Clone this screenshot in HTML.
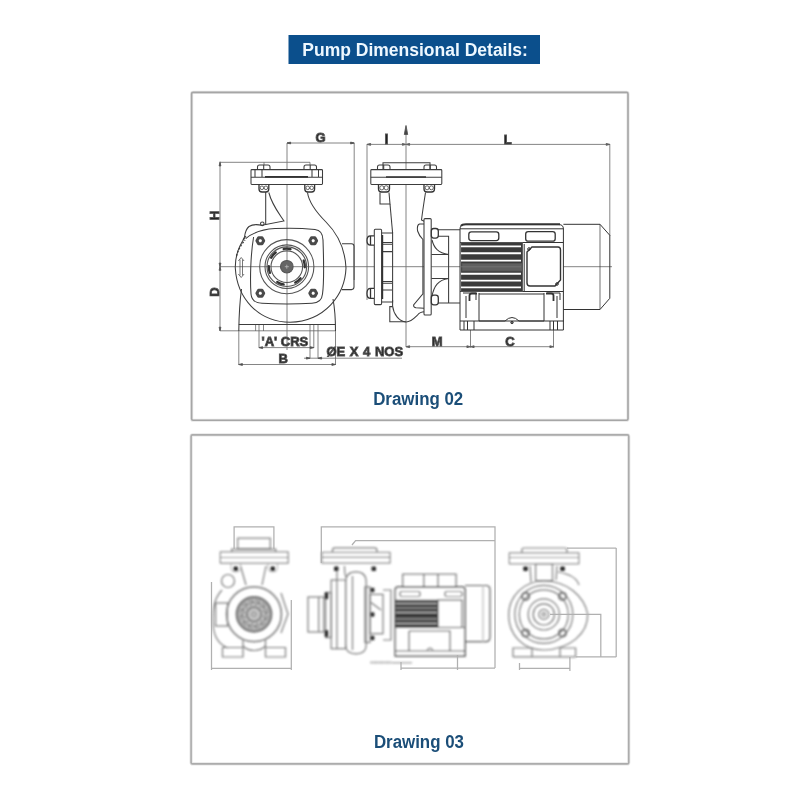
<!DOCTYPE html>
<html><head><meta charset="utf-8">
<style>
html,body{margin:0;padding:0;background:#fff;width:800px;height:800px;overflow:hidden}
svg{display:block;will-change:transform}
text{font-family:"Liberation Sans",sans-serif;font-weight:bold}
</style></head><body>
<svg width="800" height="800" viewBox="0 0 800 800">
<defs><filter id="bl3" filterUnits="userSpaceOnUse" x="0" y="0" width="800" height="800"><feGaussianBlur stdDeviation="0.8"/></filter></defs>
<rect x="0" y="0" width="800" height="800" fill="#fff"/>
<!-- title -->
<rect x="288.5" y="35" width="251.5" height="29" fill="#0b4f8c"/>
<text x="302.3" y="56" font-size="17.5" fill="#eef8ff">Pump Dimensional Details:</text>

<!-- frames -->
<g fill="none">
<rect x="191.6" y="92.4" width="436.4" height="327.85" rx="1.5" stroke="#e6e6e6" stroke-width="3.2"/>
<rect x="191.6" y="92.4" width="436.4" height="327.85" rx="1.5" stroke="#a6a6a6" stroke-width="1.6"/>
<rect x="191.1" y="434.9" width="437.65" height="329" rx="1.5" stroke="#e6e6e6" stroke-width="3.2"/>
<rect x="191.1" y="434.9" width="437.65" height="329" rx="1.5" stroke="#acacac" stroke-width="1.6"/>
</g>

<text x="373.2" y="404.5" font-size="18" textLength="90" lengthAdjust="spacingAndGlyphs" fill="#1b4e78">Drawing 02</text>
<text x="373.9" y="748.3" font-size="18" textLength="90" lengthAdjust="spacingAndGlyphs" fill="#1b4e78">Drawing 03</text>

<!-- DRAWING 02 -->
<g id="d2" fill="none" stroke="#555" stroke-width="0.9">
<!-- D2 left view: dimension lines -->
<g stroke="#666" stroke-width="0.8">
<line x1="220" y1="161.5" x2="220" y2="331"/>
<line x1="220" y1="162.3" x2="264" y2="162.3"/>
<path d="M264 165 V162.3 H310 V165"/>
<line x1="220" y1="330.8" x2="335.5" y2="330.8"/>
<line x1="287" y1="143" x2="354.2" y2="143"/>
<line x1="354.2" y1="143" x2="354.2" y2="280"/>
<line x1="238.8" y1="331" x2="238.8" y2="365"/>
<line x1="238.8" y1="364.5" x2="335.5" y2="364.5"/>
<path d="M333 299 C334.5 307 335.5 318 335.5 331" fill="none" stroke="#3c3c3c" stroke-width="1.05"/>
<line x1="335.5" y1="331" x2="335.5" y2="365"/>
<line x1="259" y1="324.5" x2="259" y2="348"/>
<line x1="259" y1="347.6" x2="314" y2="347.6"/>
<line x1="313.8" y1="324.5" x2="313.8" y2="348"/>
<line x1="310" y1="324.5" x2="310" y2="358.5"/>
<line x1="318" y1="324.5" x2="318" y2="358.5"/>
<line x1="304" y1="358.2" x2="402" y2="358.2"/>
<line x1="255.6" y1="324.5" x2="255.6" y2="331"/>
<line x1="263.5" y1="324.5" x2="263.5" y2="331"/>
</g>
<g stroke="#777" stroke-width="0.9">
<line x1="220" y1="266.7" x2="612" y2="266.7"/>
<line x1="287" y1="143" x2="287" y2="350"/>
</g>
<g fill="#222" font-size="13">
<text x="320.6" y="141.8" text-anchor="middle">G</text>
<text transform="translate(219.2,215.6) rotate(-90)" text-anchor="middle">H</text>
<text transform="translate(219.2,292) rotate(-90)" text-anchor="middle">D</text>
<text x="261.6" y="346">'A' CRS</text>
<text x="283.1" y="363.1" text-anchor="middle">B</text>
<text x="326.4" y="356.3" word-spacing="1">ØE X 4 NOS</text>
</g>
<!-- pump body -->
<g fill="none" stroke="#3c3c3c" stroke-width="1.05">
<!-- top flange -->
<rect x="251" y="169.6" width="71.5" height="14.8" rx="0.8" fill="#fff"/>
<line x1="251" y1="177.2" x2="322.5" y2="177.2"/>
<line x1="265" y1="176.9" x2="308" y2="176.9" stroke-width="1.6" stroke="#333"/>
<line x1="255" y1="169.6" x2="255" y2="177"/>
<line x1="262" y1="169.6" x2="262" y2="177"/>
<line x1="312" y1="169.6" x2="312" y2="177"/>
<line x1="318.5" y1="169.6" x2="318.5" y2="177"/>
<path d="M257.5 169.5 v-2.5 q0-2 2-2 h8.5 q2 0 2 2 v2.5 M263.7 165 v4.5"/>
<path d="M304 169.5 v-2.5 q0-2 2-2 h8.5 q2 0 2 2 v2.5 M310.2 165 v4.5"/>
<path d="M259 184.5 v4.5 q0 3 3 3 h3.8 q3 0 3 -3 v-4.5" stroke="#333" stroke-width="1.3"/><circle cx="261.9" cy="187.8" r="1.8" stroke-width="0.8"/><circle cx="265.9" cy="187.8" r="1.8" stroke-width="0.8"/>
<path d="M304.8 184.5 v4.5 q0 3 3 3 h3.8 q3 0 3 -3 v-4.5" stroke="#333" stroke-width="1.3"/><circle cx="307.7" cy="187.8" r="1.8" stroke-width="0.8"/><circle cx="311.7" cy="187.8" r="1.8" stroke-width="0.8"/>
<!-- neck -->
<line x1="265.7" y1="192" x2="265.7" y2="225"/>
<path d="M268.8 192.5 C272 205 278 212 284 221 L262 225.3 C257 224.2 253 224 249 226.5 C246 229 245 233 244.5 237 L243 240"/>
<path d="M307.5 192.5 C309 203 316 212 326 222 C338 234 345 248 346 268 C345 295 325 321 290 322.3 C258 322 237 298 235.3 268 C235 255 240 244 246 236"/>
<circle cx="262.3" cy="223.8" r="1.8"/>
<!-- rounded square flange -->
<path d="M245.7 238.6 C252 233 262 229.5 275 228.6 C290 227.8 305 228.5 315 229.6 C320.5 230.2 322.8 234 323 240 C323.5 255 324.5 280 322.5 294 C322 300 318 303 312 303.3 C298 304 276 304 262 303.3 C255 303 251.5 300 251 294 C250 280 250.5 255 253.6 237"/>
<g stroke="#555" stroke-width="1.1">
<circle cx="286.8" cy="266.7" r="27.1"/>
<circle cx="286.8" cy="266.7" r="21.8"/>
<circle cx="286.8" cy="266.7" r="19.8"/>
<circle cx="286.8" cy="266.7" r="15.8"/>
</g>
<g stroke="#333" stroke-width="2.3" stroke-linecap="round">
<path d="M283.67 248.97 A18 18 0 0 1 290.54 249.09"/>
<path d="M271.21 257.70 A18 18 0 0 1 275.72 252.52"/>
<path d="M269.89 272.86 A18 18 0 0 1 268.81 266.07"/>
<path d="M283.67 284.43 A18 18 0 0 1 277.26 281.96"/>
<path d="M300.59 278.27 A18 18 0 0 1 295.25 282.59"/>
<path d="M303.71 260.54 A18 18 0 0 1 304.79 267.33"/>
</g>
<circle cx="286.8" cy="266.7" r="6.3" fill="#666" stroke="#555"/>
<path d="M284.8 266.7 h4 M286.8 264.7 v4" stroke="#bbb" stroke-width="0.8"/>
<!-- discharge box -->
<path d="M342 243.8 h9.5 q2.5 0 2.5 2.5 v40.8 q0 2.5 -2.5 2.5 h-9.8"/>
<!-- feet -->
<path d="M241.5 289 C240 300 239 315 238.8 331"/>
<line x1="238.8" y1="324.4" x2="335.5" y2="324.4"/>
<!-- rotation arrow -->
<path d="M240 259.5 v16 M242.5 259.5 v16 M238.3 261 l2.9 -3.5 l2.9 3.5 M238.3 274 l2.9 3.5 l2.9 -3.5" stroke-width="0.7"/>
<path d="M236.5 256 C238 250 241 245 245 240" stroke-width="1.3" stroke-dasharray="2 1.5"/>
</g>
<!-- bolts -->
<g fill="none" stroke="#4a4a4a" stroke-width="3" stroke-linejoin="round">
<polygon points="263.70,240.80 262.00,243.74 258.60,243.74 256.90,240.80 258.60,237.86 262.00,237.86"/>
<polygon points="316.60,240.80 314.90,243.74 311.50,243.74 309.80,240.80 311.50,237.86 314.90,237.86"/>
<polygon points="263.70,293.20 262.00,296.14 258.60,296.14 256.90,293.20 258.60,290.26 262.00,290.26"/>
<polygon points="316.60,293.20 314.90,296.14 311.50,296.14 309.80,293.20 311.50,290.26 314.90,290.26"/>
</g>
<!-- arrows -->
<g fill="#4a4a4a">
<polygon points="220.0,162.3 219.1,165.9 220.9,165.9"/>
<polygon points="220.0,266.7 219.1,263.1 220.9,263.1"/>
<polygon points="220.0,266.7 219.1,270.3 220.9,270.3"/>
<polygon points="220.0,330.8 219.1,327.2 220.9,327.2"/>
<polygon points="287.0,143.0 290.6,142.1 290.6,143.9"/>
<polygon points="354.2,143.0 350.6,142.1 350.6,143.9"/>
<polygon points="367.0,144.4 370.6,143.5 370.6,145.3"/>
<polygon points="406.0,144.4 402.4,143.5 402.4,145.3"/>
<polygon points="406.0,144.4 409.6,143.5 409.6,145.3"/>
<polygon points="609.8,144.4 606.2,143.5 606.2,145.3"/>
<polygon points="238.8,364.5 242.4,363.6 242.4,365.4"/>
<polygon points="335.5,364.5 331.9,363.6 331.9,365.4"/>
<polygon points="259.0,347.6 262.6,346.7 262.6,348.6"/>
<polygon points="313.8,347.6 310.2,346.7 310.2,348.6"/>
<polygon points="310.0,358.2 306.4,357.2 306.4,359.1"/>
<polygon points="318.0,358.2 321.6,357.2 321.6,359.1"/>
<polygon points="406.0,346.7 409.6,345.8 409.6,347.6"/>
<polygon points="470.5,346.7 466.9,345.8 466.9,347.6"/>
<polygon points="470.5,346.7 474.1,345.8 474.1,347.6"/>
<polygon points="553.5,346.7 549.9,345.8 549.9,347.6"/>
</g>
<!-- D2 right view -->
<g stroke="#666" stroke-width="0.8">
<line x1="367" y1="144.4" x2="610" y2="144.4"/>
<line x1="367" y1="144" x2="367" y2="300"/>
<line x1="609.8" y1="144" x2="609.8" y2="236"/>
<line x1="406" y1="346.7" x2="554" y2="346.7"/>
<line x1="470.5" y1="321" x2="470.5" y2="347.5"/>
<line x1="553.5" y1="321" x2="553.5" y2="347.5"/>
</g>
<g stroke="#777" stroke-width="0.9">
<line x1="406" y1="134" x2="406" y2="347"/>
</g>
<path d="M406 125.5 L404.3 134.5 L407.7 134.5 Z" fill="#444"/>
<g fill="#222" font-size="13">
<text x="384.6" y="144" font-size="14">I</text>
<text x="503.8" y="143.7">L</text>
<text x="431.8" y="346.2">M</text>
<text x="505.2" y="346.2">C</text>
</g>
<g fill="none" stroke="#3c3c3c" stroke-width="1.05">
<!-- top flange -->
<path d="M383 169.5 v-6.8 h47 v6.8"/>
<rect x="370.8" y="169.6" width="71" height="14.8" rx="0.8" fill="#fff"/>
<line x1="370.8" y1="177.2" x2="441.8" y2="177.2"/>
<line x1="386" y1="177" x2="426" y2="177" stroke-width="1.6" stroke="#333"/>
<path d="M377.5 169.5 v-2.5 q0-2 2-2 h8.5 q2 0 2 2 v2.5 M383.7 165 v4.5"/>
<path d="M424 169.5 v-2.5 q0-2 2-2 h8.5 q2 0 2 2 v2.5 M430.2 165 v4.5"/>
<path d="M378.5 184.5 v4.5 q0 3 3 3 h5.0 q3 0 3 -3 v-4.5" stroke="#333" stroke-width="1.3"/><circle cx="381.8" cy="187.8" r="2.1" stroke-width="0.8"/><circle cx="386.2" cy="187.8" r="2.1" stroke-width="0.8"/>
<path d="M424 184.5 v4.5 q0 3 3 3 h4.5 q3 0 3 -3 v-4.5" stroke="#333" stroke-width="1.3"/><circle cx="427.1" cy="187.8" r="2.0" stroke-width="0.8"/><circle cx="431.4" cy="187.8" r="2.0" stroke-width="0.8"/>
<path d="M380 192.5 v11.5 h10 l-1 -11.5"/>
<path d="M390 204 L392.6 233"/>
<path d="M425.5 192.5 C424 202 422.5 212 421.5 220 L424.2 221.3"/>
<!-- suction flange & nuts -->
<rect x="374.3" y="229.3" width="7.3" height="75.3" rx="1" fill="#fff"/>
<path d="M381.6 233 H392.6 V302 H381.6"/>
<path d="M382 242.5 h10 M382 244.3 h10 M382 251.6 h10 M382 281.4 h10 M382 283.2 h10 M382 290 h10"/>
<line x1="382.4" y1="235" x2="382.4" y2="299" stroke-width="1.6" stroke="#333"/>
<path d="M392.6 300 V306 C393.5 314 399 321.7 406 321.9 C411 322 414 318.5 417.4 315.2 C419 313 421 311.7 424.5 311.7"/>
<path d="M392.6 306.6 h-2.8 v15.1 h16"/>
<!-- motor side flange -->
<path d="M424 224 H419.5 C417.5 224.5 417 227 417.6 231 C418.5 234 420.5 237 422.9 239.5 V293.8 L413.6 305 C413.5 306.5 414.5 307.6 416 307.8 L424 308.3"/>
<rect x="424" y="218.6" width="7.2" height="96.4" rx="1" fill="#fff"/>
<path d="M436 229.7 H460 M436 303 H460"/>
<path d="M437 236.3 H448.6 V303"/>
<path d="M432 240 C434 248 438 253 448.6 254.5 M431.5 254.5 H448.6 M431.5 278.5 H448.6 M432 296 C434 286 438 280 448.6 278.5"/>
</g>
<g fill="#fff" stroke="#333" stroke-width="1.3">
<path d="M374 235.8 H370.5 Q367 235.8 367 240.5 Q367 245.2 370.5 245.2 H374 M370.5 235.8 V245.2"/>
<path d="M374 288.4 H370.5 Q367 288.4 367 293.4 Q367 298.4 370.5 298.4 H374 M370.5 288.4 V298.4"/>
<rect x="431.3" y="228.5" width="7" height="9.6" rx="2.5"/>
<rect x="431.3" y="295.2" width="7" height="9.6" rx="2.5"/>
</g>
<!-- motor -->
<g fill="none" stroke="#333" stroke-width="1">
<path d="M460 229 Q460 224.6 465 224.6 H559 Q563.4 224.6 563.4 229 V330 H460 Z" fill="#fff"/>
<path d="M461 226 Q462 224.3 466 224.3 H560" stroke-width="2"/>
<line x1="460" y1="228.8" x2="563.4" y2="228.8"/>
<rect x="468.8" y="231.9" width="30" height="8.7" rx="2.5" stroke-width="1.3"/>
<rect x="525.7" y="231.6" width="29.5" height="9.6" rx="2.5" stroke-width="1.3"/>
<line x1="460" y1="242.5" x2="563.4" y2="242.5"/>
<line x1="460" y1="291.5" x2="563.4" y2="291.5"/>
<!-- terminal box -->
<path d="M524.2 244 V291"/>
<path d="M527 252 L532 247 H558 Q560.5 247 560.5 250 V280 L555 286 H530 Q527 286 527 283 Z" stroke-width="1.4"/>
<circle cx="529" cy="249" r="1.3"/><circle cx="557" cy="284" r="1.3"/>
<!-- feet -->
<path d="M460 321 H564 M479 293 V321 M544 293 V321 M479 294 H544"/>
<path d="M479 321 H505 Q512 314 519 321 H544"/>
<circle cx="512" cy="322.5" r="1.2" fill="#777"/>
<path d="M464 321 V330 M467.5 321 V330 M474 321 V330 M550 321 V330 M553.5 321 V330 M557.5 321 V330"/>
<path d="M463 293 H476 V300 M547 293 H560 V300 M466 296 V318 M557 296 V318"/>
<path d="M469.5 301 V295.5 Q469.5 293.5 472 293.5 H477 M553.5 301 V295.5 Q553.5 293.5 551 293.5 H546" stroke-width="1.8" stroke="#333"/>
<!-- fan cover -->
<path d="M563.4 224.3 H600 L609.8 235.3 V298.3 L600 309.5 H563.4"/>
<line x1="600" y1="224.3" x2="600" y2="309.5" stroke-width="0.7"/>
</g>
<!-- fins -->
<g fill="#3a3a3a">
<rect x="461" y="242.5" width="61.5" height="49"/>
</g>
<rect x="462" y="263.5" width="60" height="7.5" fill="#606060"/>
<g stroke="#fff" stroke-width="1.9">
<line x1="461" y1="246.4" x2="521" y2="246.4"/>
<line x1="461" y1="253.2" x2="521" y2="253.2"/>
<line x1="461" y1="260.6" x2="521" y2="260.6"/>
<line x1="461" y1="273.8" x2="521" y2="273.8"/>
<line x1="461" y1="280.6" x2="521" y2="280.6"/>
<line x1="461" y1="287.4" x2="521" y2="287.4"/>
</g>
<g stroke="#777" stroke-width="0.8">
<line x1="461" y1="266.8" x2="521" y2="266.8"/>
</g>
</g>

<!-- DRAWING 03 -->
<g id="d3" filter="url(#bl3)">
<!-- D3 left view -->
<g fill="none" stroke="#7a7a7a" stroke-width="1.2">
<rect x="237.7" y="538.2" width="32.6" height="10.6"/>
<path d="M231.7 552 V549.2 H275.7 V552"/>
<rect x="220.4" y="552" width="67.7" height="11.1" fill="#fff"/>
<line x1="220.4" y1="557.5" x2="288.1" y2="557.5"/>
<path d="M240.5 566 L246 585 M266 566 L262 585"/>
<circle cx="228" cy="581" r="6.5"/>
<path d="M222 590 C214 598 212 610 213 625 C214 637 220 645 228 648" />
<rect x="215.6" y="603" width="11.9" height="23"/>
<path d="M281 593 L288 614 L281 633"/>
<path d="M243 640 V647.5 H222.5 V657 H243 Z M265.5 640 V647.5 H285.5 V657 H265.5 Z"/>
<path d="M243 646 C249 652 259 652 265.5 646"/>
</g>
<g fill="none" stroke="#8a8a8a" stroke-width="1.8">
<circle cx="254" cy="614.3" r="27.4"/>
</g>
<circle cx="254" cy="614.3" r="17.4" fill="#a6a6a6" stroke="#777" stroke-width="2"/>
<g stroke="#d4d4d4" stroke-width="1.6" stroke-linecap="round">
<line x1="257.9" y1="615.0" x2="266.1" y2="621.3"/>
<line x1="257.1" y1="616.9" x2="261.0" y2="626.4"/>
<line x1="255.4" y1="618.1" x2="254.0" y2="628.3"/>
<line x1="253.3" y1="618.2" x2="247.0" y2="626.4"/>
<line x1="251.4" y1="617.4" x2="241.9" y2="621.3"/>
<line x1="250.2" y1="615.7" x2="240.0" y2="614.3"/>
<line x1="250.1" y1="613.6" x2="241.9" y2="607.3"/>
<line x1="250.9" y1="611.7" x2="247.0" y2="602.2"/>
<line x1="252.6" y1="610.5" x2="254.0" y2="600.3"/>
<line x1="254.7" y1="610.4" x2="261.0" y2="602.2"/>
<line x1="256.6" y1="611.2" x2="266.1" y2="607.3"/>
<line x1="257.8" y1="612.9" x2="268.0" y2="614.3"/>
</g>
<g fill="#7a7a7a">
<circle cx="260.3" cy="617.3" r="1.3"/>
<circle cx="264.9" cy="619.4" r="1.3"/>
<circle cx="258.0" cy="620.0" r="1.3"/>
<circle cx="260.9" cy="624.1" r="1.3"/>
<circle cx="254.6" cy="621.3" r="1.3"/>
<circle cx="255.0" cy="626.3" r="1.3"/>
<circle cx="251.0" cy="620.6" r="1.3"/>
<circle cx="248.9" cy="625.2" r="1.3"/>
<circle cx="248.3" cy="618.3" r="1.3"/>
<circle cx="244.2" cy="621.2" r="1.3"/>
<circle cx="247.0" cy="614.9" r="1.3"/>
<circle cx="242.0" cy="615.3" r="1.3"/>
<circle cx="247.7" cy="611.3" r="1.3"/>
<circle cx="243.1" cy="609.2" r="1.3"/>
<circle cx="250.0" cy="608.6" r="1.3"/>
<circle cx="247.1" cy="604.5" r="1.3"/>
<circle cx="253.4" cy="607.3" r="1.3"/>
<circle cx="253.0" cy="602.3" r="1.3"/>
<circle cx="257.0" cy="608.0" r="1.3"/>
<circle cx="259.1" cy="603.4" r="1.3"/>
<circle cx="259.7" cy="610.3" r="1.3"/>
<circle cx="263.8" cy="607.4" r="1.3"/>
<circle cx="261.0" cy="613.7" r="1.3"/>
<circle cx="266.0" cy="613.3" r="1.3"/>
</g>
<circle cx="254" cy="614.3" r="1.6" fill="#bbb"/>
<g fill="#222">
<rect x="233.5" y="566.5" width="4.5" height="4.5" rx="1"/>
<rect x="270.5" y="566.5" width="4.5" height="4.5" rx="1"/>
</g>
<g fill="none" stroke="#aaa" stroke-width="0.9">
<path d="M231 564 v4 q0 4 4 4 h1.5 q4 0 4 -4 v-4 M268 564 v4 q0 4 4 4 h1.5 q4 0 4 -4 v-4"/>
</g>

<!-- D3 middle view -->
<g fill="none" stroke="#7a7a7a" stroke-width="1.2">
<path d="M332.5 552.5 V550 Q332.5 547.8 335 547.8 H374.5 Q376.9 547.8 376.9 550 V552.5"/>
<rect x="321.9" y="552.5" width="68.1" height="10.5" fill="#fff"/>
<line x1="321.9" y1="557.3" x2="390" y2="557.3"/>
<path d="M337 566 V580 M344.5 566 C344.5 572 345 575 346 577"/>
<rect x="308" y="597" width="15.7" height="35"/>
<line x1="318.7" y1="597" x2="318.7" y2="632"/>
<rect x="325.6" y="592.5" width="5.7" height="45"/>
<rect x="331.2" y="580" width="5.7" height="68.7"/>
<path d="M336.9 580 H345.6 V648.7 H336.9"/>
<path d="M345.6 582 C345.6 575 350 571.9 356 571.9 C362 571.9 366.2 575 366.2 582 V645 C366.2 651 362 653.8 356 653.8 C350 653.8 345.6 651 345.6 645 Z"/>
<path d="M352.5 576 V650"/>
<rect x="365" y="586.9" width="5" height="55.6"/>
<rect x="370" y="594.4" width="13" height="39.3"/>
<path d="M371 602.5 L381 610 M383 590 H391 V640 H383"/>
<path d="M370.5 662.5 H391.5" stroke="#aaa" stroke-width="2.4" stroke-dasharray="1.6 0.8"/>
<path d="M392 662.8 H412" stroke="#999"/>
</g>
<g fill="#2a2a2a">
<rect x="324.6" y="592.3" width="3.6" height="7" rx="1"/>
<rect x="324.6" y="630" width="3.6" height="7" rx="1"/>
<rect x="334" y="566.5" width="4.5" height="4.5" rx="1"/>
<rect x="371.5" y="566.5" width="4.5" height="4.5" rx="1"/>
<rect x="370.6" y="587.8" width="3.8" height="4.5" rx="1"/>
<rect x="370.6" y="612.2" width="3.8" height="4.5" rx="1"/>
<rect x="370.6" y="635.8" width="3.8" height="4.5" rx="1"/>
</g>
<!-- motor -->
<g fill="none" stroke="#5a5a5a" stroke-width="1.2">
<rect x="402.8" y="574.3" width="53.2" height="15.7" fill="#fff"/>
<path d="M423.8 574.3 V590 M438 574.3 V590"/>
<path d="M395.3 590 Q395.3 587 398 587 H462 Q465 587 465 590 V656 H395.3 Z" fill="#fff" stroke="#444" stroke-width="1.5"/>
<rect x="400" y="591.5" width="20" height="5" rx="1.5"/>
<rect x="445" y="591.5" width="17" height="5" rx="1.5"/>
<rect x="438" y="600" width="24" height="27.5"/>
<path d="M395.3 627.5 H465 M409 631 H450 V651 M409 631 V651 M395.3 651 H465"/>
<path d="M427 650 Q430 646 433 650"/>
<path d="M465 585.5 H486 Q490 585.5 490 590 V637 Q490 641.7 486 641.7 H465"/>
<line x1="483" y1="585.5" x2="483" y2="641.7" stroke="#bbb"/>
</g>
<rect x="396" y="599.8" width="42" height="27.7" fill="#3a3a3a"/>
<g stroke="#c8c8c8" stroke-width="1.2">
<line x1="396" y1="603.5" x2="437" y2="603.5"/>
<line x1="396" y1="608" x2="437" y2="608"/>
<line x1="396" y1="612.5" x2="437" y2="612.5"/>
<line x1="396" y1="619" x2="437" y2="619"/>
<line x1="396" y1="623.5" x2="437" y2="623.5"/>
</g>

<!-- D3 right view -->
<g fill="none" stroke="#7a7a7a" stroke-width="1.2">
<path d="M521.9 553 V550 Q521.9 548 524 548 H565 Q566.9 548 566.9 550 V553"/>
<rect x="509.4" y="553" width="69.4" height="10.7" fill="#fff"/>
<line x1="509.4" y1="557.5" x2="578.8" y2="557.5"/>
<rect x="535.6" y="563.7" width="16.9" height="17"/>
<path d="M530 566 L531 582 M557 566 L556 580"/>
<path d="M558 572 C570 574 577 578 579 585"/>
<path d="M544 581 C567 581 584 596 587.7 614 C588 634 570 649 544 650"/>
<path d="M544 650 C522 650 508.7 634 508.7 615 C508.7 596 524 581 544 581"/>
<circle cx="543.8" cy="614.4" r="29" />
<circle cx="543.8" cy="614.4" r="24.5" />
<circle cx="543.8" cy="614.4" r="15.6" />
<circle cx="543.8" cy="614.4" r="10.6" />
<circle cx="543.8" cy="614.4" r="5" />
<circle cx="543.8" cy="614.4" r="1.8" />
<path d="M513 656.9 V648 H532 V656.9 M560 656.9 V648 H575.6 V656.9 M513 656.9 H575.6"/>
</g>
<g fill="none" stroke="#777" stroke-width="2">
<circle cx="525.6" cy="596.3" r="3.6"/>
<circle cx="562.5" cy="596.3" r="3.6"/>
<circle cx="525.6" cy="633" r="3.6"/>
<circle cx="562.5" cy="633" r="3.6"/>
</g>
<g fill="#222">
<rect x="523.3" y="566.5" width="4.5" height="4.5" rx="1"/>
<rect x="560.3" y="566.5" width="4.5" height="4.5" rx="1"/>
</g>

</g>
<!-- D3 dims (crisp) -->
<g fill="none" stroke="#b0b0b0" stroke-width="1.25">
<path d="M234.1 549 V526.9 H273.9 V549"/>
<path d="M211.5 582 V670 M291.3 600 V670 M211.5 668.3 H291.3"/>
<path d="M321.3 563 V526.9 H495 V668"/>
<path d="M352 545 L355.6 540.6 H495"/>
<path d="M401 668 H495 M401 662 V670 M457.5 655 V670"/>
<line x1="566.9" y1="548" x2="616.2" y2="548"/>
<path d="M550 614.4 H600.8 V656.9 M616.2 548 V656.9 M575.6 656.9 H616.2"/>
<path d="M519.5 663 V670 M569.9 657 V671 M519.5 668.3 H569.9"/>
</g>
</svg>
</body></html>
